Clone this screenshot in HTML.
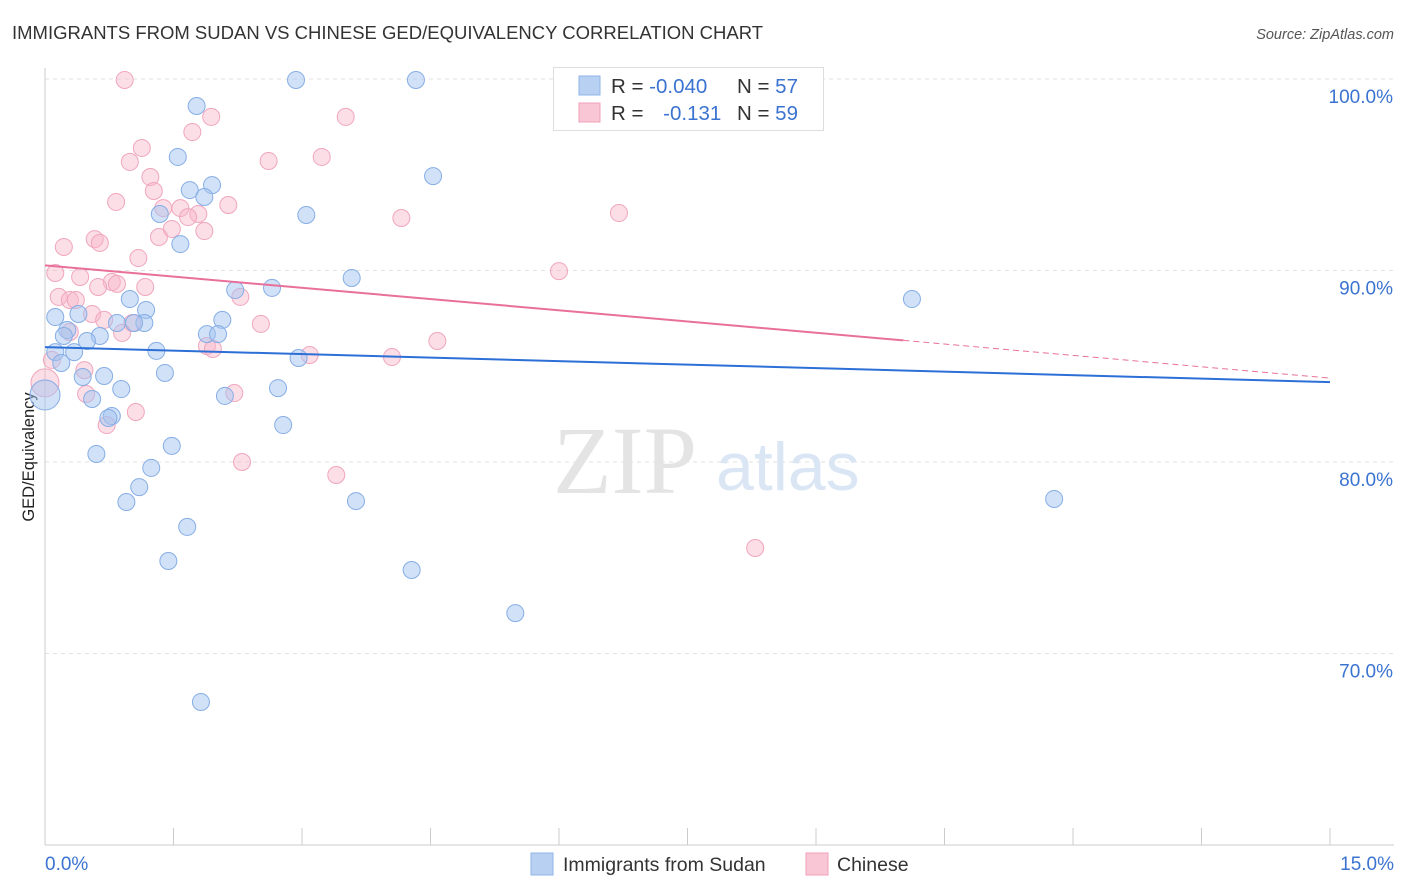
<!DOCTYPE html>
<html><head><meta charset="utf-8">
<style>
body{margin:0;background:#fff;font-family:"Liberation Sans",sans-serif;}
#wrap{position:relative;width:1406px;height:892px;overflow:hidden;}
</style></head>
<body>
<div id="wrap">
<svg id="chart" width="1406" height="892" xmlns="http://www.w3.org/2000/svg">
  <text x="12" y="39" font-size="18.5" fill="#333">IMMIGRANTS FROM SUDAN VS CHINESE GED/EQUIVALENCY CORRELATION CHART</text>
  <text x="1394" y="39" font-size="14.5" fill="#555" font-style="italic" text-anchor="end">Source: ZipAtlas.com</text>
  <g id="grid"></g>
  <g>
    <text x="553" y="493" font-size="96" font-family="Liberation Serif,serif" fill="#e4e4e4">ZIP</text>
    <text x="716" y="490" font-size="68" fill="#dbe6f5">atlas</text>
  </g>
  <line x1="45" y1="68" x2="45" y2="845" stroke="#ccc"/>
  <line x1="45" y1="845" x2="1394" y2="845" stroke="#ccc"/>
  <g id="xticks"></g>
  <g id="ylabels"></g>
  <text x="45" y="870" font-size="19" fill="#3b73d1">0.0%</text>
  <text x="1394" y="870" font-size="19" fill="#3b73d1" text-anchor="end">15.0%</text>
  <text transform="translate(34,457) rotate(-90)" font-size="16.5" fill="#222" text-anchor="middle">GED/Equivalency</text>
  <g id="pinkPts"></g>
  <g id="bluePts"></g>
  <g id="lines"></g>
  <g>
    <rect x="553.5" y="67.5" width="270" height="63" fill="#fff" stroke="#ddd"/>
    <rect x="579" y="76" width="21" height="19" fill="#b8d0f2" stroke="#8fb4e8"/>
    <rect x="579" y="103" width="21" height="19" fill="#f9c6d5" stroke="#f0a0b8"/>
    <text x="611" y="93" font-size="20.5" fill="#333">R = <tspan fill="#3b73d1">-0.040</tspan></text>
    <text x="737" y="93" font-size="20.5" fill="#333">N = <tspan fill="#3b73d1">57</tspan></text>
    <text x="611" y="120" font-size="20.5" fill="#333">R = <tspan fill="#3b73d1" dx="14">-0.131</tspan></text>
    <text x="737" y="120" font-size="20.5" fill="#333">N = <tspan fill="#3b73d1">59</tspan></text>
  </g>
  <g>
    <rect x="531" y="853" width="22" height="22" fill="#b8d0f2" stroke="#8fb4e8"/>
    <text x="563" y="871" font-size="19.5" fill="#333">Immigrants from Sudan</text>
  </g>
  <g>
    <rect x="806" y="853" width="22" height="22" fill="#f9c6d5" stroke="#f0a0b8"/>
    <text x="837" y="871" font-size="19.5" fill="#333">Chinese</text>
  </g>
</svg>
</div>
<script>
const yTicks=[100,90,80,70];
const yTickLabels=["100.0%","90.0%","80.0%","70.0%"];
const xTickVals=[0,1.5,3,4.5,6,7.5,9,10.5,12,13.5,15];
const sudanX=[2.93,4.33,1.77,1.55,4.53,1.95,1.69,1.86,1.34,3.05,1.58,3.58,2.22,2.65,10.12,0.99,1.18,0.39,0.12,2.07,0.84,1.16,1.04,0.26,0.22,1.89,2.02,0.64,0.49,0.12,0.34,1.30,2.96,0.19,1.40,0.69,0.44,0.89,2.72,2.10,0.55,0.0,0.78,0.74,2.78,1.48,0.60,1.24,1.10,0.95,3.63,11.78,1.66,1.44,4.28,5.49,1.82];
const sudanY=[99.95,99.95,98.59,95.93,94.93,94.46,94.20,93.84,92.95,92.90,91.38,89.61,88.98,89.09,88.51,88.51,87.94,87.73,87.57,87.42,87.26,87.26,87.26,86.89,86.58,86.68,86.68,86.58,86.32,85.74,85.74,85.80,85.43,85.17,84.65,84.49,84.44,83.81,83.86,83.45,83.29,83.50,82.40,82.30,81.93,80.84,80.42,79.69,78.69,77.91,77.96,78.07,76.61,74.83,74.36,72.11,67.47];
const sudanSize=[8.5,8.5,8.5,8.5,8.5,8.5,8.5,8.5,8.5,8.5,8.5,8.5,8.5,8.5,8.5,8.5,8.5,8.5,8.5,8.5,8.5,8.5,8.5,8.5,8.5,8.5,8.5,8.5,8.5,8.5,8.5,8.5,8.5,8.5,8.5,8.5,8.5,8.5,8.5,8.5,8.5,15,8.5,8.5,8.5,8.5,8.5,8.5,8.5,8.5,8.5,8.5,8.5,8.5,8.5,8.5,8.5];
const chineseX=[0.93,1.94,3.51,1.72,1.13,0.99,2.61,3.23,1.23,1.27,0.83,2.14,6.70,1.38,1.58,1.79,4.16,1.67,1.48,1.33,1.86,0.58,0.64,0.22,1.09,6.00,0.12,0.41,0.78,1.17,0.62,0.84,2.28,0.16,0.29,0.36,0.55,0.69,1.02,2.52,0.90,0.29,4.58,1.89,1.96,3.09,4.05,0.08,0.46,0.0,0.48,2.21,1.06,0.72,2.30,3.40,8.29];
const chineseY=[99.95,98.02,98.02,97.23,96.40,95.67,95.72,95.93,94.88,94.15,93.58,93.42,93.00,93.26,93.26,92.95,92.74,92.79,92.17,91.75,92.06,91.64,91.44,91.23,90.65,89.97,89.87,89.66,89.40,89.14,89.14,89.30,88.62,88.62,88.46,88.46,87.73,87.42,87.26,87.21,86.74,86.79,86.32,86.06,85.90,85.59,85.48,85.33,84.80,84.13,83.55,83.60,82.61,81.93,80.00,79.32,75.51];
const chineseSize=[8.5,8.5,8.5,8.5,8.5,8.5,8.5,8.5,8.5,8.5,8.5,8.5,8.5,8.5,8.5,8.5,8.5,8.5,8.5,8.5,8.5,8.5,8.5,8.5,8.5,8.5,8.5,8.5,8.5,8.5,8.5,8.5,8.5,8.5,8.5,8.5,8.5,8.5,8.5,8.5,8.5,8.5,8.5,8.5,8.5,8.5,8.5,8.5,8.5,14,8.5,8.5,8.5,8.5,8.5,8.5,8.5];
const sudanTrend=[86.00,84.17];
const chineseTrend=[90.27,86.35,84.38];
const chineseTrendSolidEnd=10.02;

const NS="http://www.w3.org/2000/svg";
const xs=v=>45+v/15*1285;
const ys=v=>79+(100-v)*19.15;
function mk(tag,attrs,parent){const e=document.createElementNS(NS,tag);for(const k in attrs)e.setAttribute(k,attrs[k]);parent.appendChild(e);return e;}
const grid=document.getElementById('grid'),yl=document.getElementById('ylabels'),xt=document.getElementById('xticks');
yTicks.forEach((t,i)=>{
  const l=mk('line',{x1:45,x2:1394,y1:ys(t),y2:ys(t),stroke:'#e2e2e2','stroke-dasharray':'4,4'},grid);
  
  
  const tx=mk('text',{x:1393,y:ys(t)+24,'font-size':19,fill:'#3b73d1','text-anchor':'end'},yl);
  tx.textContent=yTickLabels[i];
  
  
});
xTickVals.forEach(v=>{
  const l=mk('line',{x1:xs(v),x2:xs(v),y1:828,y2:845,stroke:'#ccc'},xt);
  
  
});
const pp=document.getElementById('pinkPts');
chineseX.forEach((x,i)=>{
  const c=mk('circle',{cx:xs(x),cy:ys(chineseY[i]),r:chineseSize[i],fill:'rgba(248,182,202,0.45)',stroke:'#f0a6bd','stroke-width':1},pp);
  
  
});
const bp=document.getElementById('bluePts');
sudanX.forEach((x,i)=>{
  const c=mk('circle',{cx:xs(x),cy:ys(sudanY[i]),r:sudanSize[i],fill:'rgba(164,196,240,0.5)',stroke:'#86aee6','stroke-width':1},bp);
  
  
});
const lg=document.getElementById('lines');
const b=mk('line',{x1:xs(0),y1:ys(sudanTrend[0]),x2:xs(15),y2:ys(sudanTrend[1]),stroke:'#2c6fd6','stroke-width':2},lg);


const p1=mk('line',{x1:xs(0),y1:ys(chineseTrend[0]),x2:xs(chineseTrendSolidEnd),y2:ys(chineseTrend[1]),stroke:'#e8709a','stroke-width':2},lg);


const p2=mk('line',{x1:xs(chineseTrendSolidEnd),y1:ys(chineseTrend[1]),x2:xs(15),y2:ys(chineseTrend[2]),stroke:'#e8709a','stroke-width':1,'stroke-dasharray':'6,4'},lg);


</script>
</body></html>
